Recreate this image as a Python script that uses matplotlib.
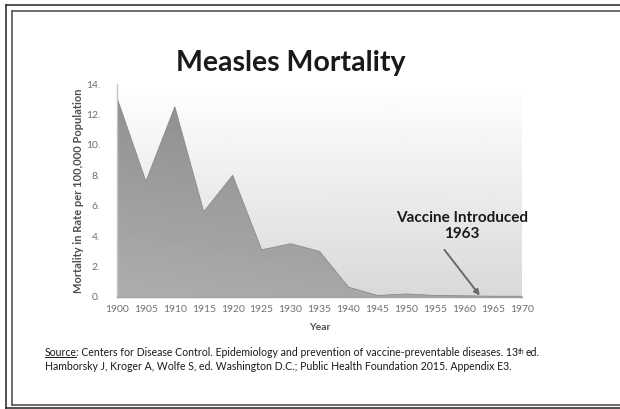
import matplotlib
matplotlib.use("Agg")
import matplotlib.pyplot as plt
import numpy as np
from matplotlib.lines import Line2D
from matplotlib.patches import Polygon

years = [1900, 1905, 1910, 1915, 1920, 1925, 1930, 1935, 1940, 1945, 1950, 1955, 1960, 1965, 1970]
mortality = [13.1, 7.6, 12.5, 5.6, 8.0, 3.1, 3.5, 3.0, 0.65, 0.1, 0.2, 0.1, 0.08, 0.05, 0.05]
yticks = [0, 2, 4, 6, 8, 10, 12, 14]
ytick_labels = ["0.", "2.", "4.", "6.", "8.", "10.", "12.", "14."]
xticks = years

plt.rcParams['font.family'] = ['Lato', 'DejaVu Sans']

W, H = 620, 409
fig = plt.figure(figsize=(W / 100, H / 100), dpi=100)
fig.patch.set_facecolor('white')

def px(x0, y0, w, h):
    return [x0 / W, 1 - (y0 + h) / H, w / W, h / H]

ax = fig.add_axes(px(117, 84, 405, 213))
ax.set_xlim(1900, 1970)
ax.set_ylim(0, 14)

# background gradient (white top -> light gray bottom)
bg = np.linspace(0.85, 1.0, 256).reshape(-1, 1)
ax.imshow(bg, extent=[1900, 1970, 0, 14], origin='lower', cmap='gray',
          vmin=0, vmax=1, aspect='auto', zorder=0)

# filled area with gradient
poly_pts = [(years[0], 0)] + list(zip(years, mortality)) + [(years[-1], 0)]
poly = Polygon(poly_pts, closed=True, facecolor='none', edgecolor='none')
ax.add_patch(poly)
gx, gy = np.meshgrid(np.linspace(0, 1, 200), np.linspace(0, 1, 200))
grad = 0.68 - 0.12 * gy - 0.04 * gx
im = ax.imshow(grad, extent=[1900, 1970, 0, 14], origin='lower', cmap='gray',
               vmin=0, vmax=1, aspect='auto', zorder=1)
im.set_clip_path(poly)
ax.plot(years, mortality, color='#8a8a8a', lw=0.6, zorder=2)

for s in ['top', 'right']:
    ax.spines[s].set_visible(False)
ax.spines['left'].set_color('#c4c4c4')
ax.spines['bottom'].set_color('#a0a0a0')
for s in ['left', 'bottom']:
    ax.spines[s].set_linewidth(1.0)
    ax.spines[s].set_zorder(3)

ax.set_yticks(yticks)
ax.set_yticklabels(ytick_labels)
ax.set_xticks(xticks)
ax.set_xticklabels([str(y) for y in xticks])
ax.tick_params(axis='both', length=0, colors='#707070', labelsize=7.5)
ax.tick_params(axis='y', pad=12)
ax.tick_params(axis='x', pad=6)
ax.set_ylabel("Mortality in Rate per 100,000 Population", fontsize=8,
              fontweight='bold', color='#505050', labelpad=1)
ax.set_xlabel("Year", fontsize=7.5, fontweight='bold', color='#505050', labelpad=6)

# annotation
ax.text(1959.6, 4.65, "Vaccine Introduced\n1963", ha='center', va='center',
        fontsize=11, fontweight='bold', color='#1a1a1a', linespacing=1.2)
ax.annotate("", xy=(1962.7, 0.1), xytext=(1956.6, 3.1),
            arrowprops=dict(arrowstyle='-|>', color='#6a6a6a', lw=1.4,
                            mutation_scale=8, shrinkA=0, shrinkB=0))

# title
fig.text(291 / W, 1 - 63 / H, "Measles Mortality", ha='center', va='center',
         fontsize=20.5, fontweight='bold', color='#1a1a1a')

# source text
src = fig.text(45 / W, 1 - 352 / H, "Source", ha='left', va='center',
               fontsize=7.6, color='#1a1a1a')
fig.canvas.draw()
r = fig.canvas.get_renderer()
bb = src.get_window_extent(r)
fig.add_artist(Line2D([bb.x0 / W, (bb.x1 - 1) / W], [(bb.y0 + 0.5) / H, (bb.y0 + 0.5) / H],
                      transform=fig.transFigure, color='#1a1a1a', lw=0.7))
t2 = fig.text((bb.x1 - 1.5) / W, 1 - 352 / H,
              ": Centers for Disease Control. Epidemiology and prevention of vaccine-preventable diseases. 13",
              ha='left', va='center', fontsize=7.6, color='#1a1a1a')
bb2 = t2.get_window_extent(r)
t3 = fig.text(bb2.x1 / W, (bb2.y1 - 1) / H, "th", ha='left', va='top',
              fontsize=5, color='#1a1a1a')
bb3 = t3.get_window_extent(r)
fig.text((bb3.x1 + 2) / W, 1 - 352 / H, "ed.", ha='left', va='center',
         fontsize=7.6, color='#1a1a1a')
fig.text(45 / W, 1 - 366 / H,
         "Hamborsky J, Kroger A, Wolfe S, ed. Washington D.C.; Public Health Foundation 2015. Appendix E3.",
         ha='left', va='center', fontsize=7.6, color='#1a1a1a')

# borders
def hline(y, x0, x1, lw, c):
    fig.add_artist(Line2D([x0 / W, x1 / W], [1 - y / H, 1 - y / H],
                          transform=fig.transFigure, color=c, lw=lw))
def vline(x, y0, y1, lw, c):
    fig.add_artist(Line2D([x / W, x / W], [1 - y0 / H, 1 - y1 / H],
                          transform=fig.transFigure, color=c, lw=lw))

hline(5, 6, 620, 1.2, '#333333')
vline(6, 5, 409, 1.2, '#333333')
hline(11, 12, 620, 1.2, '#555555')
vline(12, 11, 405, 1.2, '#555555')
hline(405, 12, 620, 1.2, '#555555')
hline(407.5, 6, 620, 1.2, '#333333')

fig.savefig("out.png", dpi=100, facecolor='white')
